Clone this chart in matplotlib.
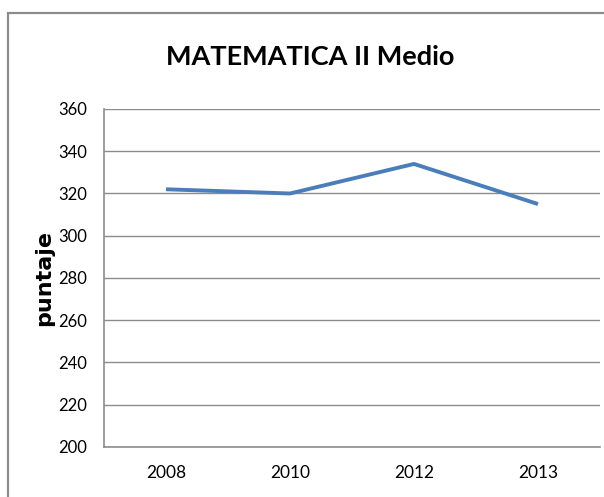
import matplotlib
matplotlib.use("Agg")
import matplotlib.pyplot as plt
from matplotlib.patches import Rectangle

# data
years = ['2008', '2010', '2012', '2013']
puntaje = [322, 320, 334, 315]
yticks = [200, 220, 240, 260, 280, 300, 320, 340, 360]

FONT = ['Lato', 'DejaVu Sans']
GRAY = '#8c8c8c'

fig = plt.figure(figsize=(6.04, 4.97), dpi=100)
ax = fig.add_axes([104 / 604, 1 - 447 / 497, (600 - 104) / 604, (447 - 109) / 497])

x = range(len(years))
ax.plot(x, puntaje, color='#4a7ebb', lw=2.8, solid_capstyle='butt')

ax.set_xlim(-0.5, len(years) - 0.5)
ax.set_ylim(200, 360)
ax.set_xticks(list(x))
ax.set_xticklabels(years, family=FONT, fontsize=12.5)
ax.set_yticks(yticks)
ax.set_yticklabels([str(v) for v in yticks], family=FONT, fontsize=12)
ax.tick_params(axis='both', length=0)
ax.tick_params(axis='y', pad=12)
ax.tick_params(axis='x', pad=13)

ax.grid(axis='y', color=GRAY, lw=1)
ax.set_axisbelow(True)
for side in ['top', 'right']:
    ax.spines[side].set_visible(False)
for side in ['left', 'bottom']:
    ax.spines[side].set_color(GRAY)
    ax.spines[side].set_linewidth(1.2)

ax.set_ylabel('puntaje', family='DejaVu Sans', fontsize=16, fontweight='bold', labelpad=3)

fig.text(310 / 604, 1 - 57 / 497, 'MATEMATICA II Medio', family=FONT,
         fontsize=19.5, fontweight='bold', ha='center', va='center')

# outer chart border (cut off at right and bottom in the reference)
fig.patches.append(Rectangle((8 / 604, -0.1), 1.2, 1 - 13 / 497 + 0.1,
                             transform=fig.transFigure, fill=False,
                             edgecolor=GRAY, lw=1.6))

fig.savefig('out.png', dpi=100)
